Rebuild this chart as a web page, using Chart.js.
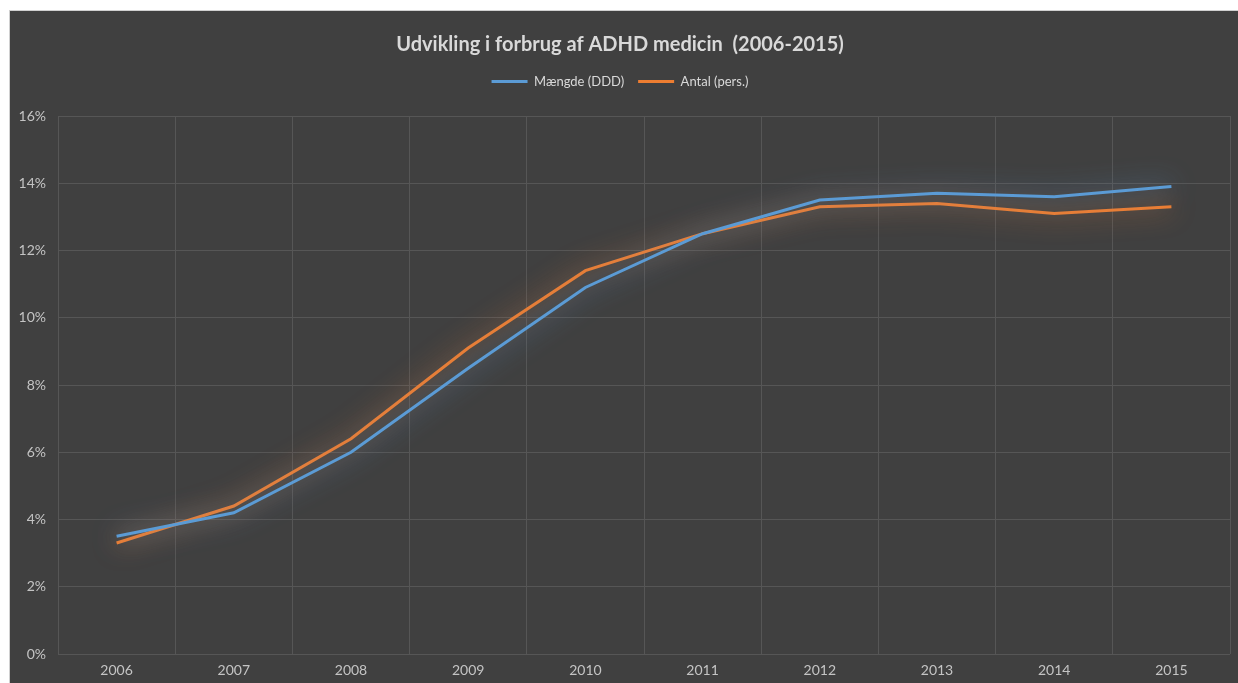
<!DOCTYPE html>
<html lang="da">
<head>
	<meta charset="utf-8">
	<title>Udvikling i forbrug af ADHD medicin</title>
	<script src="https://cdn.jsdelivr.net/npm/chart.js@4.4.1/dist/chart.umd.min.js"></script>
	<style>
		html, body {
			margin: 0;
			background: #ffffff;
			overflow: hidden;
		}
		#frame {
			position: absolute;
			left: 9px;
			top: 10px;
			width: 1229px;
			height: 673px;
			background: #404040;
			border-left: 1px solid #d0d0d0;
			border-top: 1px solid #d0d0d0;
			box-sizing: border-box;
		}
	</style>
</head>
<body>
	<div id="frame"><canvas id="adhdChart"></canvas></div>

	<script>
		// data (share of population, %)
		var years = ["2006", "2007", "2008", "2009", "2010", "2011", "2012", "2013", "2014", "2015"]
		var maengde = [3.5, 4.2, 6.0, 8.5, 10.9, 12.5, 13.5, 13.7, 13.6, 13.9]
		var antal = [3.3, 4.4, 6.4, 9.1, 11.4, 12.5, 13.3, 13.4, 13.1, 13.3]

		var BLUE = "#5b9bd5"
		var ORANGE = "#ed7d31"
		var fontFam = "Lato, 'Open Sans', sans-serif"

		// soft glow behind each line, like the original
		var glow = {
			id: "glow",
			beforeDatasetDraw(chart, args) {
				var ctx = chart.ctx
				ctx.save()
				ctx.shadowColor = args.index == 0 ? "rgba(91,155,213,1)" : "rgba(237,125,49,1)"
				ctx.shadowBlur = 26
			},
			afterDatasetDraw(chart) {
				chart.ctx.restore()
			}
		}

		// extra room under the legend before the plot starts
		var legendGap = {
			id: "legendGap",
			afterInit(chart) {
				var fit = chart.legend.fit
				chart.legend.fit = function () {
					fit.call(this)
					this.height += 18
				}
			}
		}

		var chart = new Chart("adhdChart", {
			type: "line",
			data: {
				labels: years,
				datasets: [
					{ label: "Mængde (DDD)", data: maengde, borderColor: BLUE, backgroundColor: BLUE, borderWidth: 3, pointRadius: 0, tension: 0 },
					{ label: "Antal (pers.)", data: antal, borderColor: ORANGE, backgroundColor: ORANGE, borderWidth: 3, pointRadius: 0, tension: 0 }
				]
			},
			options: {
				responsive: true,
				maintainAspectRatio: false,
				animation: false,
				layout: { padding: { left: 0, right: 8, top: 22, bottom: 0 } },
				plugins: {
					title: {
						display: true,
						text: "Udvikling i forbrug af ADHD medicin  (2006-2015)",
						color: "#d9d9d9",
						font: { family: fontFam, size: 20, weight: "bold" },
						padding: { top: 0, bottom: 4 }
					},
					legend: {
						position: "top",
						labels: {
							color: "#d9d9d9",
							font: { family: fontFam, size: 13 },
							usePointStyle: true,
							pointStyle: "line",
							pointStyleWidth: 36,
							padding: 14
						}
					},
					tooltip: { enabled: false }
				},
				scales: {
					x: {
						offset: true,
						afterFit: function (s) { s.height = 29 },
						grid: { offset: true, color: "#565656", lineWidth: 1, drawTicks: false },
						border: { display: false },
						ticks: { color: "#c4c4c4", font: { family: fontFam, size: 14 }, padding: 8 }
					},
					y: {
						min: 0,
						max: 16,
						afterFit: function (s) { s.width = 48 },
						grid: { color: "#565656", lineWidth: 1, drawTicks: false },
						border: { display: false },
						ticks: {
							stepSize: 2,
							color: "#c4c4c4",
							font: { family: fontFam, size: 14 },
							padding: 12,
							callback: function (v) { return v + "%" }
						}
					}
				}
			},
			plugins: [glow, legendGap]
		});
	</script>
</body>
</html>
